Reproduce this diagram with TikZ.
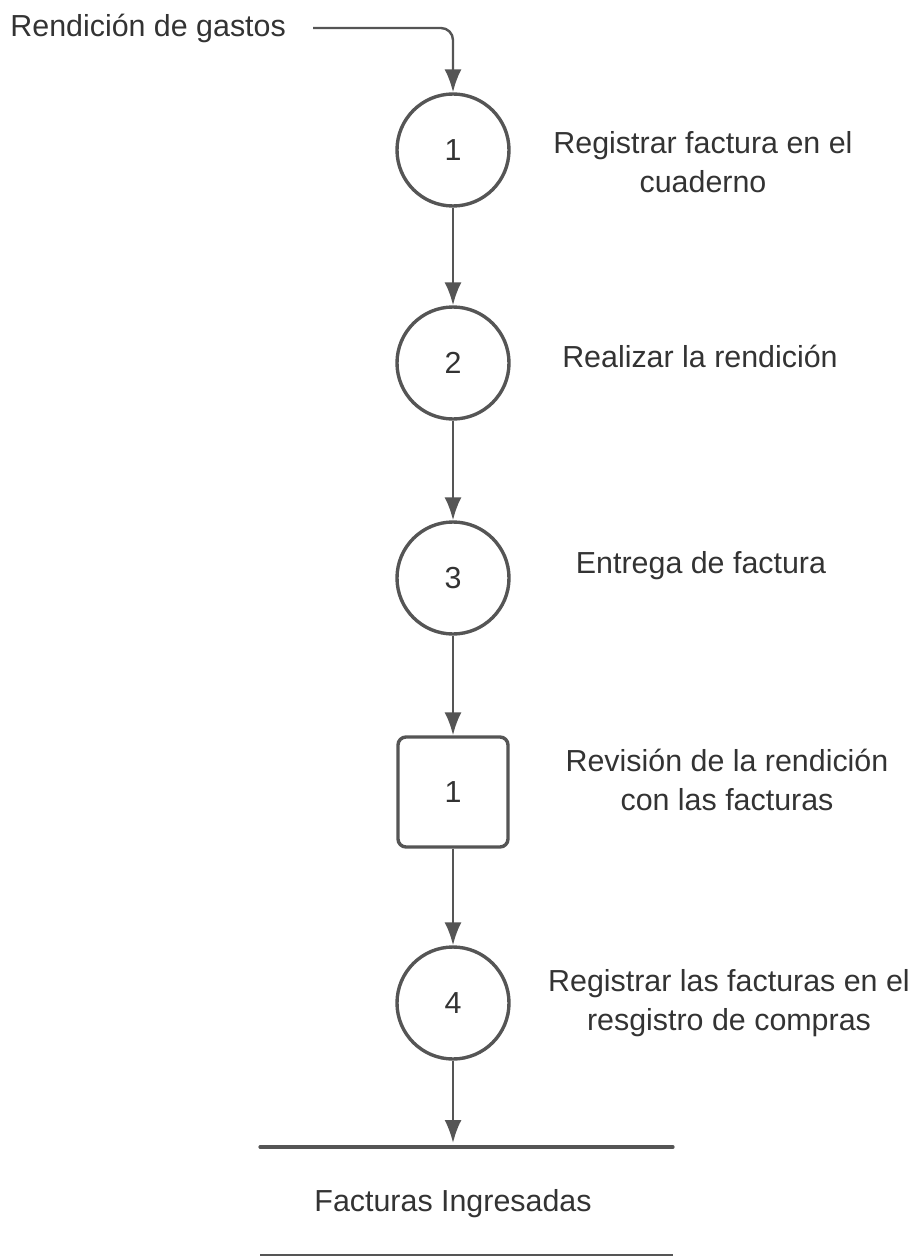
\documentclass[tikz,border=0pt]{standalone}
\usepackage{fontspec}
\setmainfont{Liberation Sans}
\usetikzlibrary{arrows.meta}
\usetikzlibrary{positioning}
\definecolor{linegray}{HTML}{555555}
\definecolor{textgray}{HTML}{333333}
\tikzstyle{proc} = [circle, minimum size=56pt, inner sep=0pt, draw=linegray, line width=1.7pt, text=textgray]
\tikzstyle{check} = [rectangle, rounded corners=4pt, minimum size=55pt, inner sep=0pt, draw=linegray, line width=1.7pt, text=textgray]
\tikzstyle{txt} = [align=center, text=textgray, inner sep=0pt]
\tikzstyle{arrow} = [-{Latex[length=11.5pt,width=8.5pt]}, draw=linegray, line width=1.2pt]

\begin{document}
\begin{tikzpicture}[x=0.5pt, y=-0.5pt, font=\fontsize{15.2}{19.5}\selectfont]

  \useasboundingbox (0,0) rectangle (917,1257);

  % entrada
  \node[txt, anchor=west] (in) at (10,28) {Rendición de gastos};
  \coordinate (start) at (313,28);

  % procesos
  \node[proc] (n1) at (453,150) {1};
  \node[proc] (n2) at (453,363) {2};
  \node[proc] (n3) at (453,578) {3};
  \node[check] (rev) at (453,792) {1};
  \node[proc] (n4) at (453,1003) {4};

  \node[txt] (t1) at (703,162) {Registrar factura en el\\cuaderno};
  \node[txt] (t2) at (700,356) {Realizar la rendición};
  \node[txt] (t3) at (701,566) {Entrega de factura};
  \node[txt] (tr) at (727,780) {Revisión de la rendición\\con las facturas};
  \node[txt] (t4) at (729,1003) {Registrar las facturas en el\\resgistro de compras};

  % almacen
  \coordinate (sL) at (260,1147);
  \coordinate (sR) at (673,1147);
  \coordinate (bL) at (260,1255);
  \coordinate (bR) at (673,1255);
  \coordinate (sM) at (453,1147);
  \node[txt] (store) at (453,1204) {Facturas Ingresadas};
  \draw[linegray, line width=1.6pt, line cap=round] (sL) -- (sR);
  \draw[linegray, line width=1.1pt] (bL) -- (bR);

  \draw[arrow, rounded corners=6pt] (start) -| (n1.north);
  \draw[arrow] (n1) -- (n2);
  \draw[arrow] (n2) -- (n3);
  \draw[arrow] (n3) -- (rev);
  \draw[arrow] (rev) -- (n4);
  \draw[arrow, shorten >=2pt] (n4) -- (sM);

\end{tikzpicture}
\end{document}
